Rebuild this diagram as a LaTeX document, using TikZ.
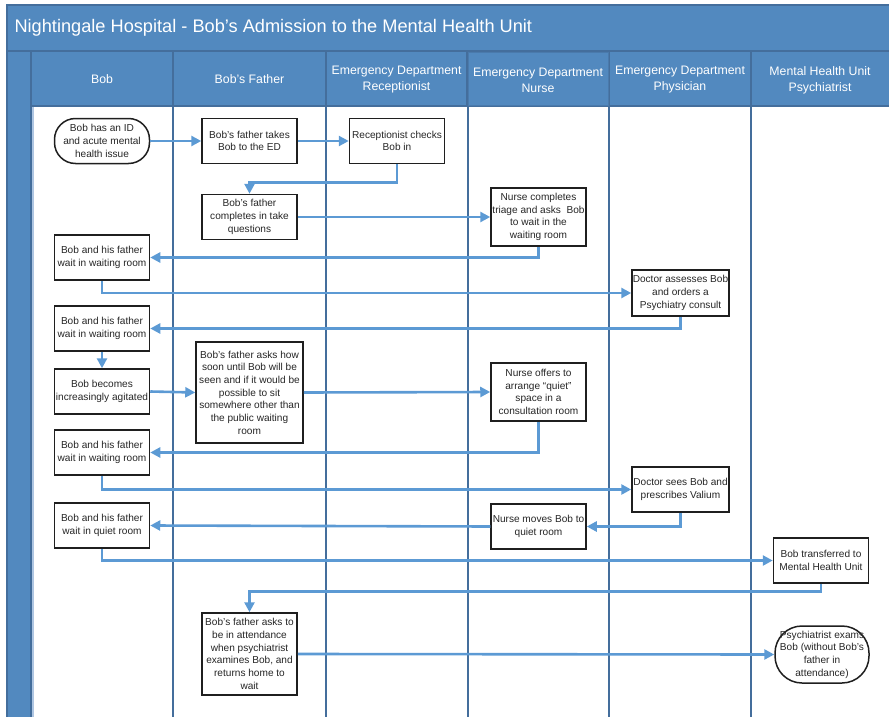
\documentclass[tikz,border=0pt]{standalone}
\usepackage{fontspec}
\setmainfont{Liberation Sans}
\usetikzlibrary{arrows.meta}

\definecolor{laneblue}{RGB}{82,137,191}
\definecolor{laneedge}{RGB}{68,110,156}
\definecolor{lanelight}{RGB}{175,198,226}
\definecolor{flowblue}{RGB}{92,154,212}
\definecolor{inkgray}{RGB}{38,38,38}

\begin{document}
\begin{tikzpicture}[x=1pt,y=-1pt,
  stepbox/.style={draw=black!88, line width=1.5pt, fill=white, text=inkgray,
    font=\fontsize{10.1}{12.7}\selectfont, align=center, inner sep=0pt,
    minimum width=95pt, minimum height=45pt},
  termbox/.style={stepbox, rounded corners=21pt},
  flow/.style={draw=flowblue, line width=2.6pt,
    -{Triangle[length=10pt,width=10pt]}},
  headcell/.style={fill=laneblue, draw=laneedge, line width=1.5pt},
  headtext/.style={text=white, align=center,
    font=\fontsize{12.3}{16}\selectfont},
  laneline/.style={draw=laneedge, line width=2pt}
]
\useasboundingbox (0,0) rectangle (889,717);

% ---- pool frame: title bar and left strip
\fill[headcell] (7,5) rectangle (895,51);
\node[anchor=west, text=white, font=\fontsize{18.2}{21}\selectfont] (title) at (11,28)
  {Nightingale Hospital - Bob’s Admission to the Mental Health Unit};
\fill[headcell] (7,51) rectangle (31,725);
\draw[lanelight, line width=1.5pt] (33,106) -- (33,725);

% ---- lane headers
\fill[headcell] (31,51) rectangle (173,106);
\fill[headcell] (173,51) rectangle (326,106);
\fill[headcell] (326,51) rectangle (467,106);
\fill[headcell] (467,51) rectangle (609,106);
\fill[headcell] (609,51) rectangle (751,106);
\fill[headcell] (751,51) rectangle (895,106);
\draw[laneedge!55!laneblue, line width=1pt] (468,53) rectangle (608,105);

\node[headtext] (h1) at (102,79) {Bob};
\node[headtext] (h2) at (249.5,79) {Bob’s Father};
\node[headtext] (h3) at (396.5,80) {Emergency Department\\Receptionist};
\node[headtext] (h4) at (538,80) {Emergency Department\\Nurse};
\node[headtext] (h5) at (680,80) {Emergency Department\\Physician};
\node[headtext] (h6) at (820,80) {Mental Health Unit\\Psychiatrist};

% ---- lane separators
\foreach \lx in {173,326,467.5,609,751}
  \draw[laneline] (\lx,106) -- (\lx,725);

% ---- process steps
\node[termbox] (n1) at (102,141) {Bob has an ID\\and acute mental\\health issue};
\node[stepbox] (n2) at (249.5,141) {Bob’s father takes\\Bob to the ED};
\node[stepbox] (n3) at (397,141) {Receptionist checks\\Bob in};
\node[stepbox] (n4) at (249.5,217) {Bob’s father\\completes in take\\questions};
\node[stepbox, minimum height=58pt] (n5) at (538.5,217)
  {Nurse completes\\triage and asks~~Bob\\to wait in the\\waiting room};
\node[stepbox] (n6) at (102,257.5) {Bob and his father\\wait in waiting room};
\node[stepbox, minimum width=97pt, minimum height=46pt] (n7) at (680.5,293)
  {Doctor assesses Bob\\and orders a\\Psychiatry consult};
\node[stepbox] (n8) at (102,328.5) {Bob and his father\\wait in waiting room};
\node[stepbox] (n9) at (102,391.5) {Bob becomes\\increasingly agitated};
\node[stepbox, minimum width=107pt, minimum height=101pt] (n10) at (249.5,392.5)
  {Bob’s father asks how\\soon until Bob will be\\seen and if it would be\\possible to sit\\somewhere other than\\the public waiting\\room};
\node[stepbox, minimum height=58pt] (n11) at (538.5,392)
  {Nurse offers to\\arrange “quiet”\\space in a\\consultation room};
\node[stepbox] (n12) at (102,452.5) {Bob and his father\\wait in waiting room};
\node[stepbox, minimum width=97pt] (n13) at (680.5,489.5) {Doctor sees Bob and\\prescribes Valium};
\node[stepbox] (n14) at (538.5,526.5) {Nurse moves Bob to\\quiet room};
\node[stepbox] (n15) at (102,525.5) {Bob and his father\\wait in quiet room};
\node[stepbox] (n16) at (821,560.5) {Bob transferred to\\Mental Health Unit};
\node[stepbox, minimum height=82pt] (n17) at (249.5,654)
  {Bob’s father asks to\\be in attendance\\when psychiatrist\\examines Bob, and\\returns home to\\wait};
\node[termbox, minimum width=94pt, minimum height=57pt, rounded corners=27pt] (n18) at (822,654.5)
  {Psychiatrist exams\\Bob (without Bob’s\\father in\\attendance)};

% ---- connectors
\draw[flow] (n1.east) -- (n2.west);
\draw[flow] (n2.east) -- (n3.west);
\draw[flow] (n3.south) -- ++(0,18) -| (n4.north);
\draw[flow] (n4.east) -- (n5.west);
\draw[flow] (n5.south) |- (n6.east);
\draw[flow] (n6.south) |- (n7.west);
\draw[flow] (n7.south) |- (n8.east);
\draw[flow] (n8.south) -- (n9.north);
\draw[flow] (n9.east) -- (n10.west);
\draw[flow] (n10.east) -- (n11.west);
\draw[flow] (n11.south) |- (n12.east);
\draw[flow] (n12.south) |- (n13.west);
\draw[flow] (n13.south) |- (n14.east);
\draw[flow] (n14.west) -- (n15.east);
\draw[flow] (n15.south) |- (n16.west);
\draw[flow] (n16.south) -- ++(0,8) -| (n17.north);
\draw[flow] (n17.east) -- (n18.west);
\end{tikzpicture}
\end{document}
